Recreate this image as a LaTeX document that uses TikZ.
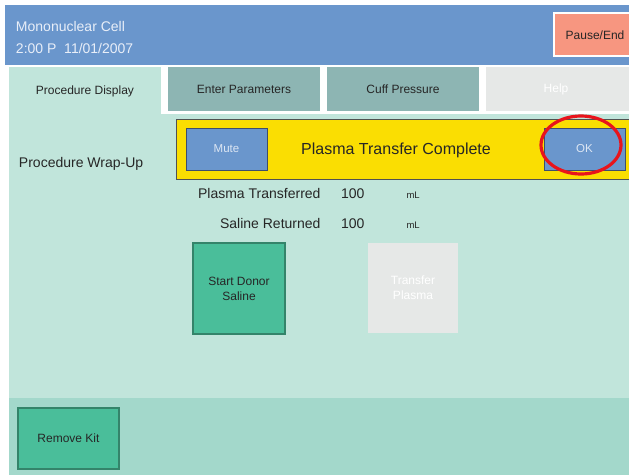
\documentclass[tikz,border=0pt]{standalone}
\usepackage{fontspec}
\setmainfont{Liberation Sans}

\definecolor{hdrblue}{RGB}{106,150,204}
\definecolor{hdrtext}{RGB}{232,238,248}
\definecolor{panel}{RGB}{193,229,219}
\definecolor{footer}{RGB}{163,216,203}
\definecolor{tabteal}{RGB}{141,181,179}
\definecolor{offgray}{RGB}{230,232,231}
\definecolor{salmon}{RGB}{247,150,128}
\definecolor{alertyellow}{RGB}{250,222,2}
\definecolor{btnedge}{RGB}{62,78,108}
\definecolor{btntext}{RGB}{220,230,243}
\definecolor{gobtn}{RGB}{74,190,154}
\definecolor{goedge}{RGB}{52,132,106}
\definecolor{ink}{RGB}{38,38,38}
\definecolor{ringred}{RGB}{232,20,28}

\begin{document}
\begin{tikzpicture}[x=1pt,y=-1pt,
  box/.style={anchor=north west, inner sep=0pt, outer sep=0pt},
  sz/.style 2 args={minimum width=#1pt, minimum height=#2pt},
  small/.style={font=\fontsize{12}{15}\selectfont, text=ink},
  medium/.style={font=\fontsize{14}{16}\selectfont, text=ink},
  tiny/.style={font=\fontsize{9.5}{11}\selectfont, text=ink},
  tabbox/.style={box, fill=tabteal, small},
  bluebtn/.style={box, fill=hdrblue, draw=btnedge, line width=1pt,
    font=\fontsize{11.5}{14}\selectfont, text=btntext},
  greenbtn/.style={box, fill=gobtn, draw=goedge, line width=1.2pt,
    small, align=center},
  label/.style={inner sep=0pt, outer sep=0pt}]

\useasboundingbox (0,0) rectangle (629,475);
\fill[white] (0,0) rectangle (629,475);

% header bar
\node[box, fill=hdrblue, sz={624}{60}] (header) at (5,5) {};
\node[label, anchor=base west, text=hdrtext, font=\fontsize{14}{16}\selectfont]
  (hdrname) at (16,31.5) {Mononuclear Cell};
\node[label, anchor=base west, text=hdrtext, font=\fontsize{14}{16}\selectfont]
  (hdrdate) at (16,53) {2:00 P\ \ 11/01/2007};
\fill[white] (553,12) rectangle (632,57);
\node[box, fill=salmon, sz={77}{41}] (pauseend) at (555,14) {};
\node[label, small] (pauselbl) at (595,35) {Pause/End};

% panel and footer
\fill[panel] (9,67) rectangle (629,475);
\fill[footer] (9,398) rectangle (629,475);
\fill[white] (161,65) rectangle (629,113.5);

% tabs
\node[label, small, anchor=base] (tabproc) at (85,94) {Procedure Display};
\node[tabbox, sz={152}{44}] (tabparams) at (168,67) {Enter Parameters};
\node[tabbox, sz={152}{44}] (tabcuff) at (327,67) {Cuff Pressure};
\node[box, fill=offgray, sz={146}{44}, small, text=white] (tabhelp) at (486,67) {\kern-6pt Help};

% alert banner
\node[box, fill=alertyellow, draw=ink!80, line width=1pt, sz={460}{60}] (banner) at (176,119) {};
\node[bluebtn, sz={81}{42}] (mute) at (186,128) {Mute};
\node[bluebtn, sz={81}{42}] (okbtn) at (544,128) {OK};
\node[label, font=\fontsize{16}{19}\selectfont, text=ink, anchor=base] (bannertext) at (396,154) {Plasma Transfer Complete};
\draw[ringred, line width=3.2pt] (581,145) ellipse [x radius=40pt, y radius=29pt];

% procedure readouts
\node[label, medium, anchor=base west] (wrapup) at (19,167) {Procedure Wrap-Up};
\node[label, medium, anchor=base east] (plasmalbl) at (320.5,198) {Plasma Transferred};
\node[label, medium, anchor=base west] (plasmaval) at (341,198) {100};
\node[label, tiny, anchor=base west] (plasmaunit) at (406.5,198) {mL};
\node[label, medium, anchor=base east] (salinelbl) at (320.5,228) {Saline Returned};
\node[label, medium, anchor=base west] (salineval) at (341,228) {100};
\node[label, tiny, anchor=base west] (salineunit) at (406.5,228) {mL};

% action buttons
\node[greenbtn, sz={92}{91}] (startsaline) at (193,243) {};
\node[label, small, align=center] (startlbl) at (startsaline.center) {Start Donor\\Saline};
\node[box, fill=offgray, sz={90}{90}] (transfer) at (368,243) {};
\node[label, small, text=white, align=center] (transferlbl) at (transfer.center) {Transfer\\Plasma};
\node[greenbtn, sz={101}{61}] (removekit) at (18,408) {};
\node[label, small] (removelbl) at (removekit.center) {Remove Kit};

\end{tikzpicture}
\end{document}
